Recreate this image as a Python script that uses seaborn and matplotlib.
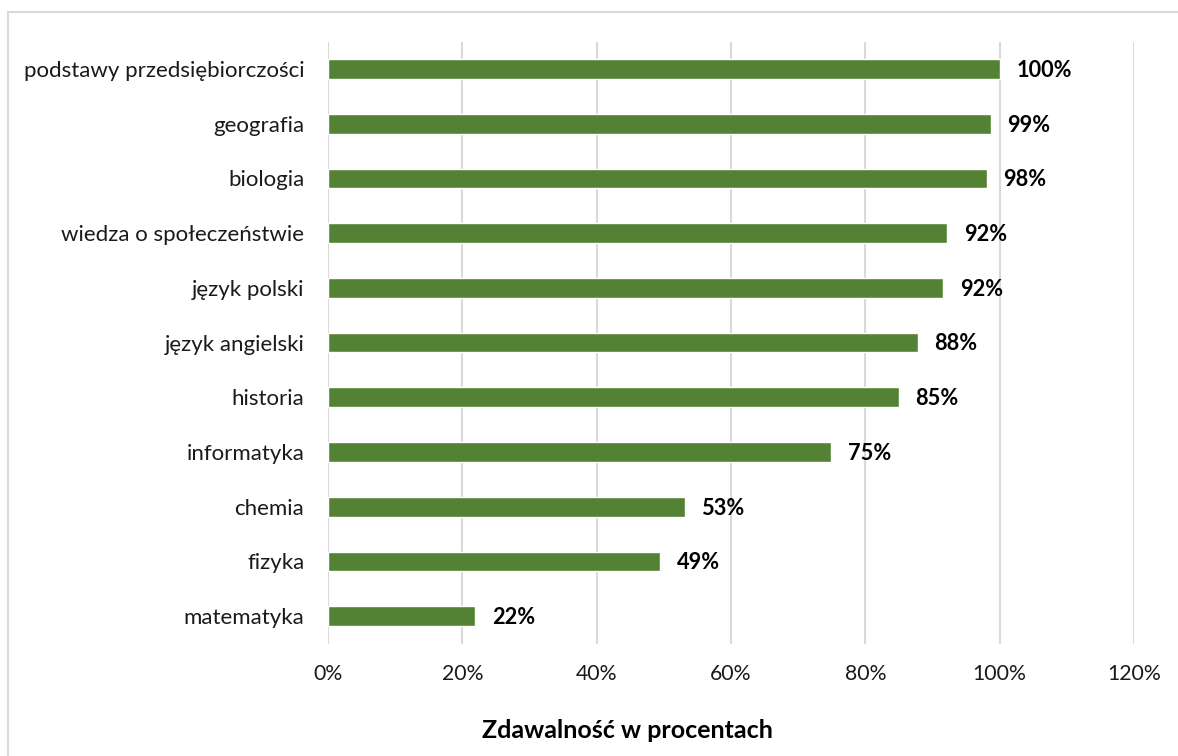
import matplotlib
matplotlib.use("Agg")
import matplotlib.pyplot as plt
from matplotlib.lines import Line2D
import seaborn as sns
import pandas as pd

# dane: zdawalność wg przedmiotu
przedmioty = ["podstawy przedsiębiorczości", "geografia", "biologia",
              "wiedza o społeczeństwie", "język polski", "język angielski",
              "historia", "informatyka", "chemia", "fizyka", "matematyka"]
zdawalnosc = [100.0, 98.7, 98.1, 92.2, 91.6, 87.8, 85.0, 74.9, 53.1, 49.4, 21.9]
ticki = [0, 20, 40, 60, 80, 100, 120]

df = pd.DataFrame({"przedmiot": przedmioty, "proc": zdawalnosc})

sns.set_theme(style="white")
plt.rcParams["font.family"] = ["Lato", "DejaVu Sans"]

fig = plt.figure(figsize=(11.78, 7.56), dpi=100)
ax = fig.add_axes([0.2784, 0.1488, 0.6842, 0.7962])

sns.barplot(data=df, x="proc", y="przedmiot", orient="h", color="#548235",
            width=0.36, saturation=1, ax=ax)

for i, v in enumerate(zdawalnosc):
    ax.annotate(f"{round(v)}%", (v, i), xytext=(12, -1), textcoords="offset points",
                va="center", ha="left", fontsize=15.7, fontweight="bold", color="#000000")

ax.set_xlim(0, 120)
ax.set_xticks(ticks=ticki, labels=[f"{t}%" for t in ticki])
ax.xaxis.grid(True, color="#d9d9d9", linewidth=1.5)
ax.set_axisbelow(True)
for s in ax.spines.values():
    s.set_visible(False)
ax.tick_params(axis="both", length=0, labelcolor="#1a1a1a")
ax.tick_params(axis="y", pad=17, labelsize=16)
ax.tick_params(axis="x", pad=15, labelsize=15.3)
ax.set_ylabel("")
ax.set_xlabel("Zdawalność w procentach", fontsize=18, fontweight="bold", color="#000000")
# tytuł osi wyśrodkowany względem całego obszaru wykresu, nie samej osi
ax.xaxis.set_label_coords(0.372, -0.125)

# ramka wykresu
fig.add_artist(Line2D([8 / 1178, 1], [1 - 12 / 756, 1 - 12 / 756], color="#d9d9d9", lw=1.5,
                      transform=fig.transFigure))
fig.add_artist(Line2D([8 / 1178, 8 / 1178], [0, 1 - 12 / 756], color="#d9d9d9", lw=1.5,
                      transform=fig.transFigure))

fig.savefig("out.png", dpi=100)
